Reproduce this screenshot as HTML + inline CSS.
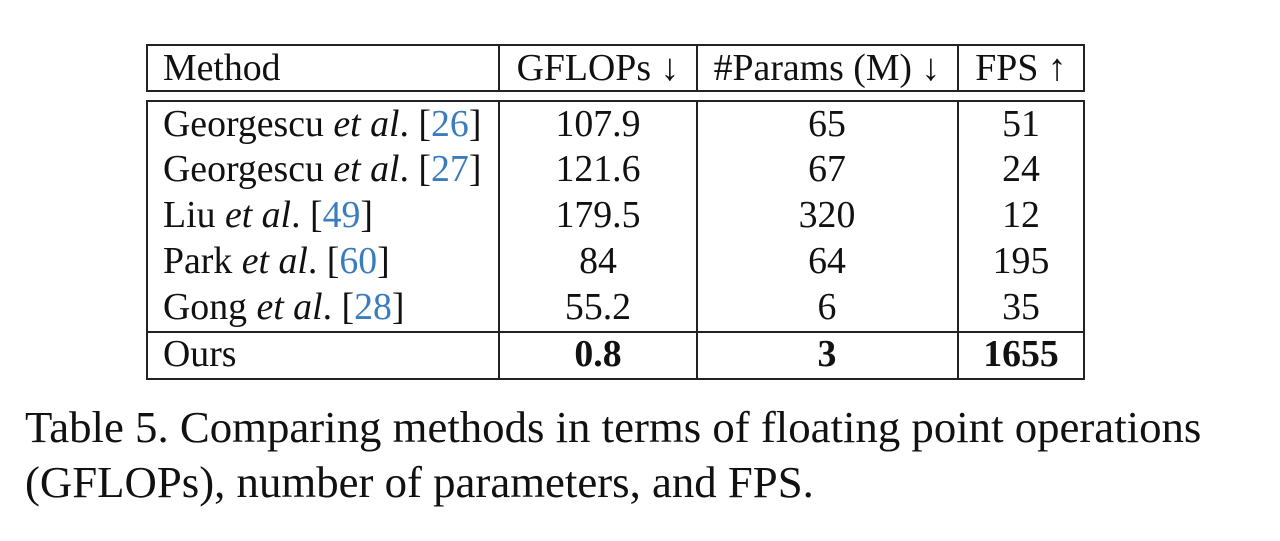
<!DOCTYPE html>
<html><head><meta charset="utf-8"><style>
body{margin:0;width:1280px;height:541px;background:#fff;position:relative;overflow:hidden;font-family:"Liberation Serif",serif;color:#111}
.l{position:absolute;background:#222}
.t{position:absolute;font-size:37.8px;line-height:40px;white-space:nowrap}
.c{transform:translateX(-50%)}
a{color:#3a7dbf;text-decoration:none}
.cap{position:absolute;left:25px;font-size:44.8px;line-height:55px;white-space:nowrap}
</style></head><body>
<div>
<div class="l" style="left:146px;top:44px;width:938px;height:2px"></div>
<div class="l" style="left:146px;top:90px;width:938px;height:2px"></div>
<div class="l" style="left:146px;top:100px;width:938px;height:2px"></div>
<div class="l" style="left:146px;top:331px;width:938px;height:2px"></div>
<div class="l" style="left:146px;top:378px;width:938px;height:2px"></div>
<div class="l" style="left:146px;top:44px;width:2px;height:48px"></div>
<div class="l" style="left:146px;top:100px;width:2px;height:280px"></div>
<div class="l" style="left:1083px;top:44px;width:2px;height:48px"></div>
<div class="l" style="left:1083px;top:100px;width:2px;height:280px"></div>
<div class="l" style="left:498px;top:44px;width:2px;height:48px"></div>
<div class="l" style="left:498px;top:100px;width:2px;height:280px"></div>
<div class="l" style="left:696px;top:44px;width:2px;height:48px"></div>
<div class="l" style="left:696px;top:100px;width:2px;height:280px"></div>
<div class="l" style="left:957px;top:44px;width:2px;height:48px"></div>
<div class="l" style="left:957px;top:100px;width:2px;height:280px"></div>

<div class="t" style="left:163px;top:48px">Method</div>
<div class="t c" style="left:598px;top:48px">GFLOPs ↓</div>
<div class="t c" style="left:827px;top:48px">#Params (M) ↓</div>
<div class="t c" style="left:1021px;top:48px">FPS ↑</div>

<div class="t" style="left:163px;top:104px">Georgescu <i>et al</i>. [<a>26</a>]</div>
<div class="t c" style="left:598px;top:104px">107.9</div>
<div class="t c" style="left:827px;top:104px">65</div>
<div class="t c" style="left:1021px;top:104px">51</div>

<div class="t" style="left:163px;top:149px">Georgescu <i>et al</i>. [<a>27</a>]</div>
<div class="t c" style="left:598px;top:149px">121.6</div>
<div class="t c" style="left:827px;top:149px">67</div>
<div class="t c" style="left:1021px;top:149px">24</div>

<div class="t" style="left:163px;top:195px">Liu <i>et al</i>. [<a>49</a>]</div>
<div class="t c" style="left:598px;top:195px">179.5</div>
<div class="t c" style="left:827px;top:195px">320</div>
<div class="t c" style="left:1021px;top:195px">12</div>

<div class="t" style="left:163px;top:241px">Park <i>et al</i>. [<a>60</a>]</div>
<div class="t c" style="left:598px;top:241px">84</div>
<div class="t c" style="left:827px;top:241px">64</div>
<div class="t c" style="left:1021px;top:241px">195</div>

<div class="t" style="left:163px;top:287px">Gong <i>et al</i>. [<a>28</a>]</div>
<div class="t c" style="left:598px;top:287px">55.2</div>
<div class="t c" style="left:827px;top:287px">6</div>
<div class="t c" style="left:1021px;top:287px">35</div>

<div class="t" style="left:163px;top:334px">Ours</div>
<div class="t c" style="left:598px;top:334px;font-weight:bold">0.8</div>
<div class="t c" style="left:827px;top:334px;font-weight:bold">3</div>
<div class="t c" style="left:1021px;top:334px;font-weight:bold">1655</div>
</div>
<div class="cap" style="top:400px">Table 5. Comparing methods in terms of floating point operations<br>(GFLOPs), number of parameters, and FPS.</div>
</body></html>
